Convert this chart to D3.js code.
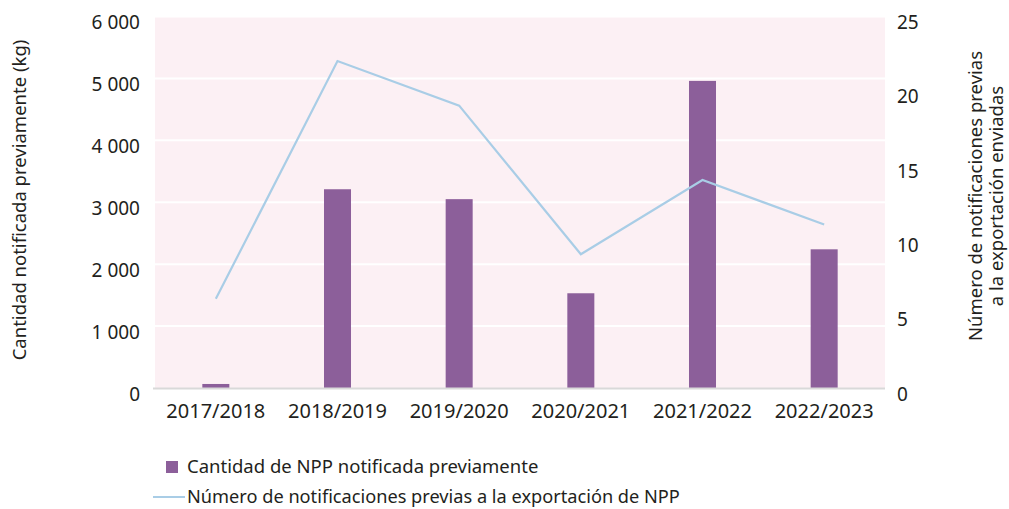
<!DOCTYPE html>
<html>
<head>
<meta charset="utf-8">
<script src="https://cdn.jsdelivr.net/npm/d3@7"></script>
<style>
  body { margin: 0; background: #fff; }
  svg text { font-family: "Noto Sans", sans-serif; fill: #231f20; }
</style>
</head>
<body>
<svg id="chart" width="1009" height="509"></svg>
<script>
const years = ["2017/2018", "2018/2019", "2019/2020", "2020/2021", "2021/2022", "2022/2023"]
const quantityKg = [65, 3210, 3050, 1530, 4960, 2240]
const notifications = [6, 22, 19, 9, 14, 11]
const leftTicks = [0, 1000, 2000, 3000, 4000, 5000, 6000]
const rightTicks = [0, 5, 10, 15, 20, 25]

const barLabel = "Cantidad de NPP notificada previamente"
const lineLabel = "Número de notificaciones previas a la exportación de NPP"

const width = 1009
const height = 509
const margin = { top: 16.5, right: 124, bottom: 121, left: 155 }
const barColor = "#8c5f9a"
const lineColor = "#a9cde6"

var svg = d3.select("#chart")

var x = d3.scaleBand().domain(years).range([margin.left, width - margin.right]).padding(0)
var yLeft = d3.scaleLinear().domain([0, 6000]).range([height - margin.bottom, margin.top])
var yRight = d3.scaleLinear().domain([0, 25]).range([height - margin.bottom, margin.top])

var fmt = d3.formatLocale({ thousands: " ", grouping: [3], decimal: ",", currency: ["", ""] }).format(",")

// background
svg.append("rect")
    .attr("x", margin.left)
    .attr("y", margin.top)
    .attr("width", width - margin.left - margin.right)
    .attr("height", height - margin.top - margin.bottom)
    .attr("fill", "#fcf0f4")

// gridlines
svg.append("g").selectAll("line")
    .data(leftTicks.slice(1))
    .enter().append("line")
    .attr("x1", margin.left)
    .attr("x2", width - margin.right)
    .attr("y1", d => yLeft(d))
    .attr("y2", d => yLeft(d))
    .attr("stroke", "#fff")
    .attr("stroke-width", 2)

// bars
var barW = x.bandwidth() * 0.222
svg.append("g").selectAll("rect")
    .data(years)
    .enter().append("rect")
    .attr("x", (d) => x(d) + x.bandwidth() / 2 - barW / 2)
    .attr("y", (d, i) => yLeft(quantityKg[i]))
    .attr("width", barW)
    .attr("height", (d, i) => yLeft(0) - yLeft(quantityKg[i]))
    .attr("fill", barColor)

// baseline
svg.append("line")
    .attr("x1", margin.left - 2)
    .attr("x2", width - margin.right)
    .attr("y1", yLeft(0) + 0.5)
    .attr("y2", yLeft(0) + 0.5)
    .attr("stroke", "#d9d9d9")
    .attr("stroke-width", 2)

// line
var line = d3.line()
    .x((d, i) => x(years[i]) + x.bandwidth() / 2)
    .y(d => yRight(d))

svg.append("path")
    .datum(notifications)
    .attr("d", line)
    .attr("fill", "none")
    .attr("stroke", lineColor)
    .attr("stroke-width", 2.2)

// axes
var leftAxis = svg.append("g")
    .attr("transform", "translate(" + margin.left + ",6)")
    .call(d3.axisLeft(yLeft).tickValues(leftTicks).tickFormat(fmt).tickSize(0).tickPadding(15))
var rightAxis = svg.append("g")
    .attr("transform", "translate(" + (width - margin.right) + ",6)")
    .call(d3.axisRight(yRight).tickValues(rightTicks).tickSize(0).tickPadding(12))
var bottomAxis = svg.append("g")
    .attr("transform", "translate(0," + (height - margin.bottom) + ")")
    .call(d3.axisBottom(x).tickSize(0).tickPadding(16))

;[leftAxis, rightAxis, bottomAxis].forEach(g => {
    g.select(".domain").remove()
    g.selectAll("text").attr("font-size", 19).attr("font-family", "Noto Sans, sans-serif").attr("fill", "#231f20")
})
bottomAxis.selectAll("text").attr("font-size", 20)

// axis titles
svg.append("text")
    .attr("transform", "translate(26,200) rotate(-90)")
    .attr("text-anchor", "middle")
    .attr("font-size", 18.5)
    .text("Cantidad notificada previamente (kg)")

var rt = svg.append("text")
    .attr("transform", "translate(982,196) rotate(-90)")
    .attr("text-anchor", "middle")
    .attr("font-size", 18.5)
rt.append("tspan").attr("x", 0).attr("dy", 0).text("Número de notificaciones previas")
rt.append("tspan").attr("x", 0).attr("dy", 21).text("a la exportación enviadas")

// legend
var legend = svg.append("g")
legend.append("rect")
    .attr("x", 166).attr("y", 461)
    .attr("width", 12).attr("height", 12)
    .attr("fill", barColor)
legend.append("text")
    .attr("x", 187).attr("y", 467)
    .attr("dy", "0.35em")
    .attr("font-size", 18.5)
    .text(barLabel)
legend.append("line")
    .attr("x1", 153).attr("x2", 185)
    .attr("y1", 497).attr("y2", 497)
    .attr("stroke", lineColor)
    .attr("stroke-width", 2)
legend.append("text")
    .attr("x", 187).attr("y", 497)
    .attr("dy", "0.35em")
    .attr("font-size", 18.2)
    .text(lineLabel)
</script>
</body>
</html>
